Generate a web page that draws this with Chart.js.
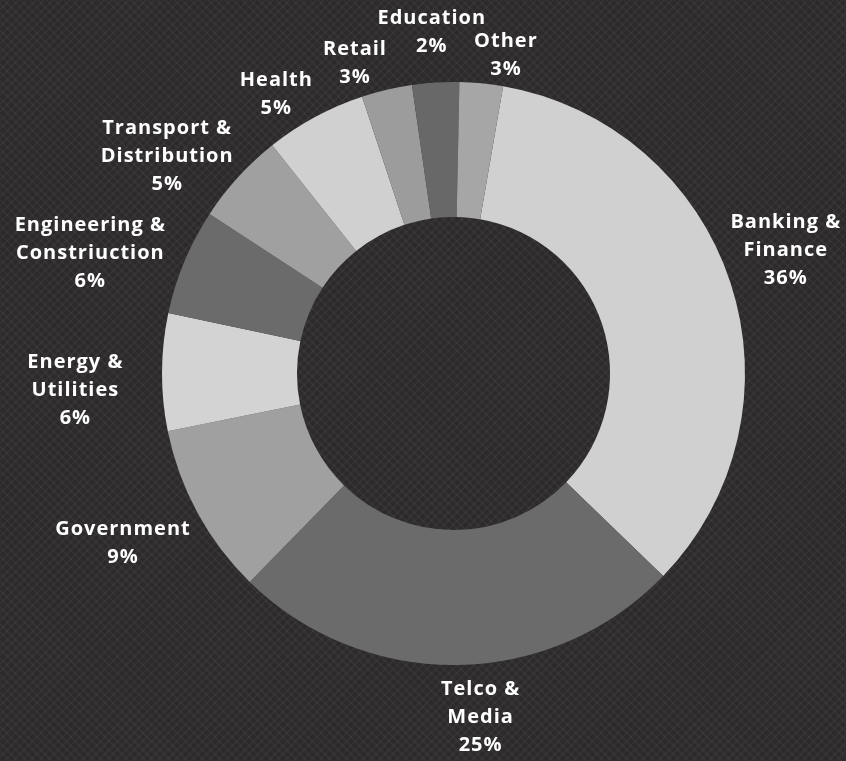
<!DOCTYPE html>
<html>
<head>
<meta charset="utf-8">
<script src="https://cdn.jsdelivr.net/npm/chart.js@4.4.1/dist/chart.umd.min.js"></script>
<style>
  html, body { margin: 0; padding: 0; }
  body {
    width: 846px; height: 761px; overflow: hidden;
    background-color: #2d2a2b;
    background-image:
      repeating-linear-gradient(45deg, rgba(255,255,255,0.03) 0 2px, rgba(0,0,0,0) 2px 6px),
      repeating-linear-gradient(-45deg, rgba(255,255,255,0.03) 0 2px, rgba(0,0,0,0) 2px 6px);
  }
  #wrap { position: relative; width: 846px; height: 761px; }
</style>
</head>
<body>
<div id="wrap"><canvas id="c" width="846" height="761"></canvas></div>
<script>
// ---- data ----
const categories = [
  'Banking &\nFinance',
  'Telco &\nMedia',
  'Government',
  'Energy &\nUtilities',
  'Engineering &\nConstriuction',
  'Transport &\nDistribution',
  'Health',
  'Retail',
  'Education',
  'Other'
];
// slice shares measured from the ring geometry
const shares = [34.5, 25.1, 9.5, 6.5, 5.9, 5.1, 5.6, 2.8, 2.6, 2.4];
// percentage texts as printed on the chart
const shareLabels = ['36%', '25%', '9%', '6%', '6%', '5%', '5%', '3%', '2%', '3%'];

// ---- styling ----
const sliceColors = ['#d0d0d0', '#6b6b6b', '#a0a0a0', '#d3d3d3', '#6b6b6b',
                     '#a0a0a0', '#d0d0d0', '#9c9c9c', '#686868', '#a6a6a6'];
// label placement: [angle shift in degrees, distance from centre in px]
const labelPlacement = [[-2.3, 354], [-3.6, 345], [1.4, 372], [-2.8, 379], [-4.3, 383],
                        [-5.2, 360], [-4.1, 331], [-4.45, 326], [-0.2, 342], [3.8, 322]];

const outsideLabels = {
  id: 'outsideLabels',
  afterDatasetsDraw(chart) {
    const ctx = chart.ctx;
    const meta = chart.getDatasetMeta(0);
    ctx.save();
    ctx.fillStyle = '#ffffff';
    ctx.font = 'bold 20px "Open Sans"';
    ctx.letterSpacing = '1px';
    ctx.textAlign = 'center';
    ctx.textBaseline = 'middle';
    const lh = 28;
    meta.data.forEach((arc, i) => {
      const p = arc.getProps(['x', 'y', 'startAngle', 'endAngle'], true);
      const mid = (p.startAngle + p.endAngle) / 2 + labelPlacement[i][0] * Math.PI / 180;
      const d = labelPlacement[i][1];
      const cx = p.x + Math.cos(mid) * d;
      const cy = p.y + Math.sin(mid) * d;
      const lines = categories[i].split('\n').concat([shareLabels[i]]);
      const top = cy - (lines.length - 1) * lh / 2;
      lines.forEach((t, k) => ctx.fillText(t, cx + 0.5, top + k * lh));
    });
    ctx.restore();
  }
};

new Chart(document.getElementById('c'), {
  type: 'doughnut',
  data: {
    labels: categories.map(c => c.replace('\n', ' ')),
    datasets: [{
      data: shares,
      backgroundColor: sliceColors,
      borderWidth: 0
    }]
  },
  options: {
    responsive: false,
    animation: false,
    rotation: 9.8,
    cutout: '53.7%',
    layout: { padding: { left: 162, right: 101, top: 82, bottom: 96 } },
    plugins: {
      legend: { display: false },
      tooltip: { enabled: false }
    }
  },
  plugins: [outsideLabels]
});
</script>
</body>
</html>
